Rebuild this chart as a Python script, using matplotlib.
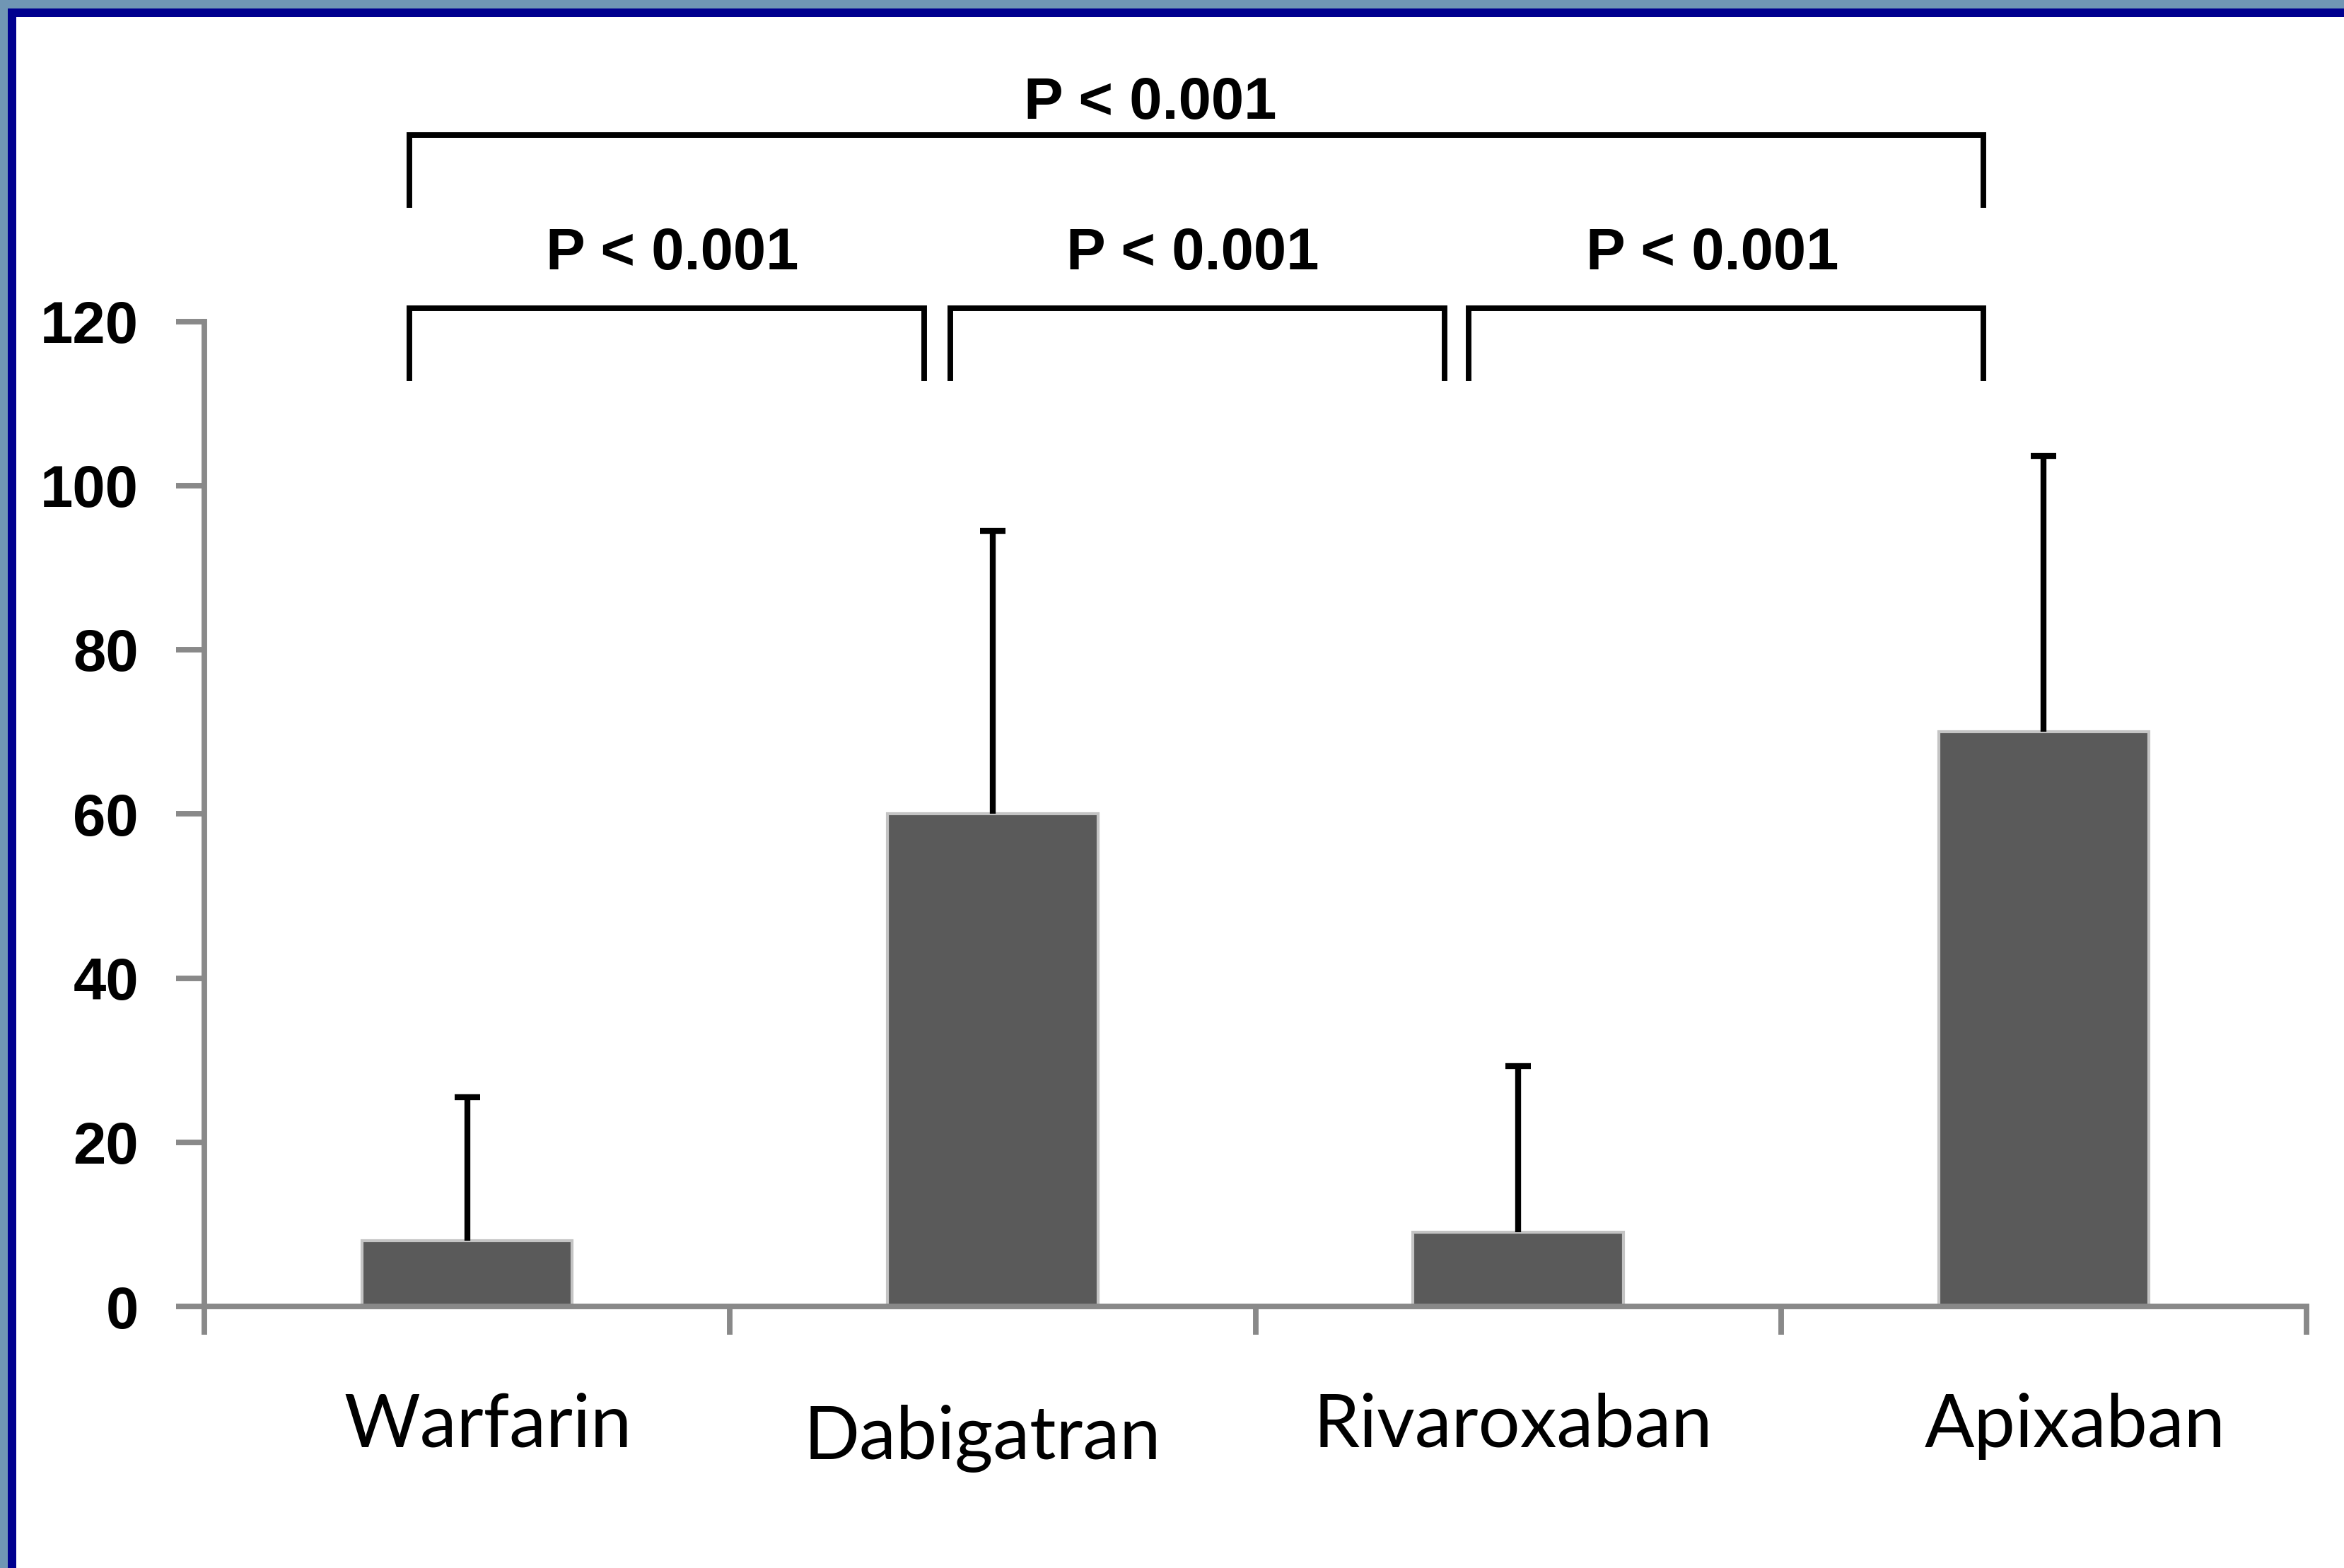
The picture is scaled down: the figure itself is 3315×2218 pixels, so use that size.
import matplotlib
matplotlib.use('Agg')
import matplotlib.pyplot as plt
from matplotlib.patches import Rectangle
import numpy as np

# values
drugs = ['Warfarin', 'Dabigatran', 'Rivaroxaban', 'Apixaban']
means = [8, 60, 9, 70]
sd_upper = [17.5, 34.5, 20.3, 33.6]
y_ticks = [0, 20, 40, 60, 80, 100, 120]
p_text = 'P < 0.001'

# significance brackets: (left, right, top, leg bottom) in data units
brackets = [
    (0.39, 3.385, 142.7, 134.2),
    (0.39, 1.37, 121.6, 113.1),
    (1.42, 2.36, 121.6, 113.1),
    (2.405, 3.385, 121.6, 113.1),
]
p_pos = [(1.80, 146.6), (0.89, 128.2), (1.88, 128.2), (2.87, 128.2)]

# label anchors (x, baseline) - Dabigatran sits a bit lower in the original
label_pos = [(0.54, -17.1), (1.48, -18.6), (2.49, -17.1), (3.56, -17.1)]

fig = plt.figure(figsize=(3315 / 300, 2218 / 300), dpi=300)
fig.patch.set_facecolor('white')
ax = fig.add_axes([289 / 3315, 1 - 1848 / 2218, (3262 - 289) / 3315, (1848 - 454.5) / 2218])

gray = '#898989'
x = np.arange(len(drugs)) + 0.5
ax.bar(x, means, width=0.4, color='#5a5a5a', edgecolor='#c4c4c4', linewidth=1.0, zorder=2)
eb = ax.errorbar(x, means, yerr=[np.zeros(len(means)), sd_upper], fmt='none', ecolor='black',
                 elinewidth=2.0, capsize=4.3, capthick=2.0, zorder=3)
# only the upper cap is drawn in the original
for cap in eb[1]:
    if np.allclose(cap.get_ydata(), means):
        cap.set_visible(False)

ax.set_xlim(0, len(drugs))
ax.set_ylim(0, 120)
ax.set_xticks(np.arange(len(drugs) + 1))
ax.set_xticklabels([])
ax.set_yticks(y_ticks)
ax.set_yticklabels([str(t) for t in y_ticks], fontfamily='Liberation Sans', fontweight='bold', fontsize=20)
ax.tick_params(axis='both', direction='out', length=9.6, width=1.9, color=gray)
ax.tick_params(axis='y', pad=12.7)

for side in ['top', 'right']:
    ax.spines[side].set_visible(False)
for side in ['left', 'bottom']:
    ax.spines[side].set_color(gray)
    ax.spines[side].set_linewidth(1.9)

for name, (lx, ly) in zip(drugs, label_pos):
    ax.text(lx, ly, name, ha='center', va='baseline', fontfamily='Lato', fontsize=25,
            color='black', clip_on=False)

for x0, x1, yt, yb in brackets:
    ax.plot([x0, x0, x1, x1], [yb, yt, yt, yb], color='black', lw=1.9,
            solid_joinstyle='miter', clip_on=False)
for px, py in p_pos:
    ax.text(px, py, p_text, ha='center', va='center', fontfamily='Liberation Sans',
            fontweight='bold', fontsize=20, color='black', clip_on=False)

# slide frame: light strip + navy band on top and left edge
W, H = 3315, 2218
fig.patches.append(Rectangle((0, 1 - 12 / H), 1, 12 / H, transform=fig.transFigure,
                             facecolor='#7096b4', edgecolor='none'))
fig.patches.append(Rectangle((0, 1 - 24 / H), 1, 12 / H, transform=fig.transFigure,
                             facecolor='#00008f', edgecolor='none'))
fig.patches.append(Rectangle((0, 0), 11 / W, 1, transform=fig.transFigure,
                             facecolor='#7096b4', edgecolor='none'))
fig.patches.append(Rectangle((11 / W, 0), 12 / W, 1 - 12 / H, transform=fig.transFigure,
                             facecolor='#00008f', edgecolor='none'))

fig.savefig('out.png', dpi=300)
